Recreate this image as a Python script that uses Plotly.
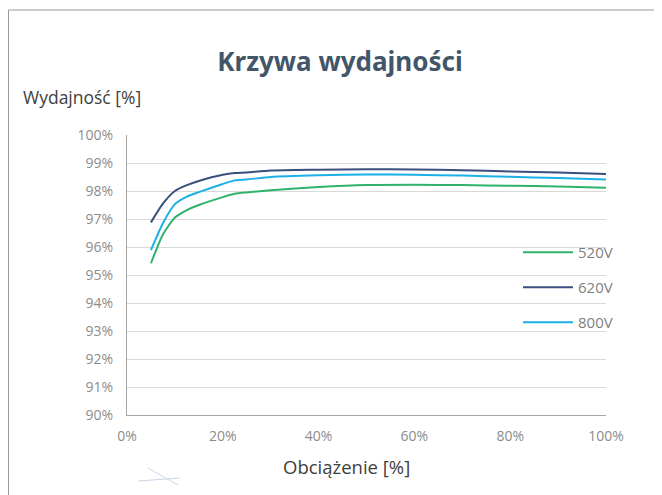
import plotly.graph_objects as go

load_pct = [5, 7.5, 10, 12.5, 15, 20, 22.5, 25, 30, 40, 50, 60, 70, 80, 90, 100]
eff_520 = [95.42, 96.45, 97.05, 97.32, 97.5, 97.78, 97.9, 97.95, 98.03, 98.14, 98.21, 98.22, 98.21, 98.19, 98.16, 98.12]
eff_620 = [96.88, 97.55, 98.0, 98.21, 98.36, 98.58, 98.64, 98.66, 98.73, 98.76, 98.78, 98.77, 98.74, 98.7, 98.66, 98.61]
eff_800 = [95.89, 96.85, 97.53, 97.8, 97.96, 98.25, 98.38, 98.41, 98.5, 98.56, 98.59, 98.58, 98.55, 98.51, 98.46, 98.41]
series_names = ["520V", "620V", "800V"]
x_ticks = [0, 20, 40, 60, 80, 100]
y_ticks = [90, 91, 92, 93, 94, 95, 96, 97, 98, 99, 100]

colors = ["#2fb36c", "#3a4f7d", "#1bb0e6"]

fig = go.Figure()
for name, vals, c in zip(series_names, [eff_520, eff_620, eff_800], colors):
    fig.add_trace(go.Scatter(x=load_pct, y=vals, mode="lines", name=name,
                             legendgroup=name,
                             line=dict(color=c, width=2, shape="spline", smoothing=0.6)))

OFF = 8  # page body margin
W, H = 662 - OFF, 495 - OFF
L, T = 127 - OFF, 135 - OFF
R = W - (606 - OFF)
B = H - (415 - OFF)
pw, ph = W - L - R, H - T - B

def px_x(px):
    return (px - OFF - L) / pw

def px_y(py):
    return (H - B - (py - OFF)) / ph

fig.update_layout(
    width=W, height=H, autosize=False,
    margin=dict(l=L, r=R, t=T, b=B),
    paper_bgcolor="white", plot_bgcolor="white",
    font=dict(family="Open Sans, Noto Sans, sans-serif"),
    title=dict(text="<b>Krzywa wydajności</b>", x=(340 - OFF) / W, xanchor="center",
               y=1 - (62 - OFF) / H, yanchor="middle", yref="container",
               font=dict(size=26, color="#435669", family="Noto Sans, Open Sans, sans-serif")),
    xaxis=dict(range=[0, 100], tickvals=x_ticks, ticktext=[f"{v}%" for v in x_ticks],
               showgrid=False, zeroline=False, showline=True, linecolor="#a6a6a6", linewidth=1,
               tickfont=dict(size=14, color="#8c8c8c"), ticks="", ticklabelstandoff=8,
               fixedrange=True),
    yaxis=dict(range=[90, 100], tickvals=y_ticks, ticktext=[f"{v}%" for v in y_ticks],
               showgrid=True, gridcolor="#d9d9d9", gridwidth=1, zeroline=False,
               showline=True, linecolor="#a6a6a6", linewidth=1,
               tickfont=dict(size=14, color="#8c8c8c"), ticks="", ticklabelstandoff=10,
               fixedrange=True),
    legend=dict(x=px_x(518), y=px_y(236), xanchor="left", yanchor="top",
                bgcolor="rgba(0,0,0,0)", font=dict(size=15, color="#7f7f7f"),
                tracegroupgap=12.5, itemwidth=50),
    showlegend=True,
    annotations=[
        dict(text="Wydajność [%]", x=px_x(21), y=px_y(97), xref="paper", yref="paper",
             xanchor="left", yanchor="middle", showarrow=False,
             font=dict(size=17.5, color="#404040")),
        dict(text="Obciążenie [%]", x=px_x(346), y=px_y(466), xref="paper", yref="paper",
             xanchor="center", yanchor="middle", showarrow=False,
             font=dict(size=18.5, color="#404040")),
    ],
    shapes=[
        dict(type="line", xref="paper", yref="paper", x0=px_x(8.5), x1=px_x(662),
             y0=px_y(10), y1=px_y(10), line=dict(color="#9a9a9a", width=1)),
        dict(type="line", xref="paper", yref="paper", x0=px_x(8.5), x1=px_x(8.5),
             y0=px_y(10), y1=px_y(495), line=dict(color="#9a9a9a", width=1)),
        dict(type="line", xref="paper", yref="paper", x0=px_x(148), x1=px_x(178),
             y0=px_y(468), y1=px_y(485), line=dict(color="#c9d8ec", width=1)),
        dict(type="line", xref="paper", yref="paper", x0=px_x(138), x1=px_x(180),
             y0=px_y(481), y1=px_y(478), line=dict(color="#c9d8ec", width=1)),
    ],
)

fig.write_html("out.html")
